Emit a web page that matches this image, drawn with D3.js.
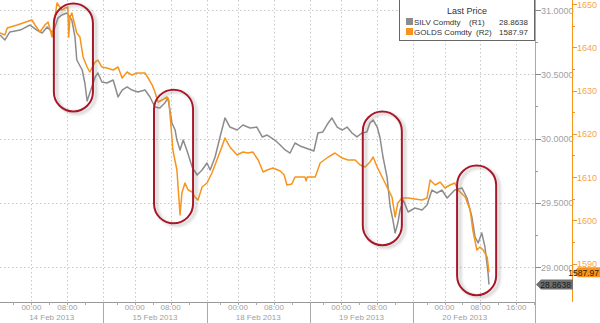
<!DOCTYPE html>
<html><head><meta charset="utf-8">
<script src="https://cdn.jsdelivr.net/npm/d3@7"></script>
<style>
html,body{margin:0;padding:0;background:#fff;}
svg{display:block;font-family:"Liberation Sans",Arial,sans-serif;}
</style></head>
<body><svg id="c" width="600" height="323"></svg>
<script>
// session hours: hours since 13 Feb 17:00, each trading day = 23h (17:00 -> 16:00)
const dayLabels = ["14 Feb 2013","15 Feb 2013","18 Feb 2013","19 Feb 2013","20 Feb 2013"];
const silverHours = [0.0,1.1,2.2,4.5,6.7,8.2,9.4,10.5,11.8,12.9,13.8,14.9,16.0,16.7,17.1,18.3,18.9,19.4,20.0,21.2,21.8,22.7,23.8,25.2,26.3,27.2,28.3,29.4,30.7,32.3,33.4,34.5,35.6,36.7,37.4,38.3,39.0,39.4,40.1,40.8,41.6,42.8,43.9,45.0,46.1,46.8,47.9,49.0,50.1,51.2,52.8,54.1,55.7,57.2,58.4,59.5,61.2,62.4,63.5,64.6,65.7,66.8,69.9,70.8,71.9,73.1,73.9,75.1,76.2,77.3,78.4,79.5,80.6,81.7,82.4,83.1,84.0,84.6,85.3,86.2,86.9,87.5,88.0,88.6,89.1,89.8,90.9,92.4,94.0,95.1,96.2,97.3,98.4,99.6,100.2,101.3,102.9,104.0,105.1,105.8,106.5,107.3,108.0,108.7,108.9];
const silverPrice = [30.805,30.767,30.829,30.844,30.883,30.844,30.821,30.868,30.821,30.938,30.961,30.977,30.922,30.790,30.611,30.533,30.432,30.292,30.354,30.479,30.510,30.440,30.432,30.455,30.323,30.377,30.401,30.377,30.362,30.377,30.323,30.245,30.237,30.276,30.315,30.121,30.066,29.988,29.911,29.988,29.911,29.778,29.716,29.755,29.809,29.755,29.856,30.012,30.160,30.089,30.066,30.105,30.082,30.089,30.012,30.027,29.988,29.949,29.911,29.887,29.965,29.942,29.903,30.043,30.051,30.121,30.160,30.089,30.066,30.089,30.043,30.012,30.043,30.051,30.121,30.144,30.089,30.012,29.856,29.700,29.467,29.366,29.265,29.342,29.444,29.521,29.428,29.459,29.444,29.482,29.599,29.576,29.599,29.537,29.560,29.599,29.615,29.537,29.389,29.233,29.187,29.265,29.156,28.953,28.8638];
const goldHours = [0.0,1.1,1.6,3.8,5.1,7.1,7.8,8.9,10.0,10.7,11.6,12.7,13.8,14.5,15.1,15.3,15.6,16.0,17.1,17.8,18.5,19.4,20.0,21.2,21.8,22.7,23.8,25.2,26.3,27.2,28.3,29.4,30.5,32.3,33.0,33.9,34.5,35.2,36.1,37.2,37.6,38.1,38.5,39.4,40.1,40.5,41.2,41.9,42.8,43.4,44.1,45.0,46.1,47.2,48.3,49.4,50.1,51.2,52.8,54.1,55.2,56.3,57.5,58.6,59.5,60.8,62.4,63.3,63.9,65.0,65.7,67.9,68.2,68.4,70.2,71.3,73.1,74.6,76.2,77.5,79.1,80.2,81.3,82.4,83.1,84.0,85.1,86.2,87.3,88.0,88.6,89.5,90.9,92.4,94.0,95.1,95.8,96.9,98.0,99.1,100.2,101.3,102.0,103.6,104.7,105.3,106.2,106.9,107.6,108.5,108.9];
const goldPrice = [1643.29,1642.83,1644.45,1645.14,1645.61,1646.30,1645.14,1643.53,1645.14,1645.84,1642.37,1650.23,1648.61,1649.08,1649.31,1642.37,1646.99,1647.92,1643.29,1642.37,1637.75,1635.43,1634.28,1636.59,1637.05,1635.43,1635.20,1634.74,1635.43,1632.89,1634.28,1633.58,1634.05,1634.05,1632.89,1631.27,1629.65,1627.34,1627.80,1628.50,1627.80,1621.56,1616.24,1611.62,1601.21,1606.30,1608.61,1606.99,1606.53,1605.38,1604.68,1607.69,1608.61,1610.92,1613.93,1616.94,1619.02,1616.94,1615.09,1615.78,1615.55,1615.78,1613.93,1611.16,1611.62,1612.08,1611.40,1610.46,1608.15,1608.40,1610.00,1610.00,1609.10,1610.00,1610.00,1613.24,1614.62,1615.55,1614.39,1613.93,1613.93,1612.77,1612.31,1613.47,1614.62,1612.31,1610.00,1607.69,1605.38,1600.75,1603.99,1605.14,1605.14,1604.91,1604.68,1605.14,1609.31,1608.15,1608.84,1607.46,1608.15,1608.61,1606.99,1605.38,1602.37,1597.75,1593.12,1593.82,1593.12,1591.50,1587.97];
const silverTicks = [29,29.5,30,30.5,31];
const goldTicks = [1590,1600,1610,1620,1630,1640,1650];
const legendTitle = "Last Price";
const legendRows = [
  {name:"SILV Comdty", axis:"(R1)", last:"28.8638", color:"#8c8c8c"},
  {name:"GOLDS Comdty", axis:"(R2)", last:"1587.97", color:"#f7941d"}
];
// highlighted episodes: [startHour, endHour, silverHigh, silverLow]
const highlights = [[12.0,20.7,31.05,30.21],[34.3,43.0,30.38,29.34],[80.8,89.5,30.21,29.17],[101.8,110.5,29.79,28.78]];

const svg = d3.select("#c");
const W = 535, AX = 302;
const x = d3.scaleLinear().domain([0,119.15]).range([0,W]);
const yS = d3.scaleLinear().domain([29,31]).range([267,10]);
const yG = d3.scaleLinear().domain([1590,1650]).range([263.5,4]);

const defs = svg.append("defs");
const f = defs.append("filter").attr("id","sh").attr("x","-30%").attr("y","-30%").attr("width","160%").attr("height","160%");
f.append("feDropShadow").attr("dx",3).attr("dy",2).attr("stdDeviation",1.6).attr("flood-color","#777").attr("flood-opacity",0.45);

// grid
const g = svg.append("g");
const vGrid = [];
for (let d=0; d<5; d++) vGrid.push(23*d+7, 23*d+15, 23*d+23);
g.selectAll(".vg").data(vGrid).enter().append("line")
  .attr("x1",d=>Math.round(x(d))+0.5).attr("x2",d=>Math.round(x(d))+0.5)
  .attr("y1",0).attr("y2",AX).attr("stroke","#c8c8c8").attr("stroke-dasharray","1.5,2.5");
g.selectAll(".hg").data(silverTicks).enter().append("line")
  .attr("x1",0).attr("x2",W).attr("y1",d=>Math.round(yS(d))+0.5).attr("y2",d=>Math.round(yS(d))+0.5)
  .attr("stroke","#c8c8c8").attr("stroke-dasharray","1.5,2.5");

// lines
const ls = d3.line().x((d,i)=>x(silverHours[i])).y(d=>yS(d));
const lg = d3.line().x((d,i)=>x(goldHours[i])).y(d=>yG(d));
svg.append("path").attr("d",ls(silverPrice)).attr("fill","none").attr("stroke","#8c8c8c").attr("stroke-width",1.5).attr("stroke-linejoin","round");
svg.append("path").attr("d",lg(goldPrice)).attr("fill","none").attr("stroke","#f7941d").attr("stroke-width",1.5).attr("stroke-linejoin","round");

// highlights
svg.selectAll(".hl").data(highlights).enter().append("rect")
  .attr("x",d=>x(d[0])).attr("y",d=>yS(d[2]))
  .attr("width",d=>x(d[1])-x(d[0])).attr("height",d=>yS(d[3])-yS(d[2]))
  .attr("rx",d=>(x(d[1])-x(d[0]))/2).attr("ry",d=>(x(d[1])-x(d[0]))/2)
  .attr("fill","none").attr("stroke","#a8192b").attr("stroke-width",2).attr("filter","url(#sh)");

// bottom axis
const xa = svg.append("g").attr("transform",`translate(0,${AX})`);
xa.append("line").attr("x1",0).attr("x2",W).attr("y1",0.5).attr("y2",0.5).attr("stroke","#999");
const minor = [];
for (let d=0; d<5; d++) [3,7,11,15,19].forEach(h=>minor.push(23*d+h));
minor.push(115,119);
xa.selectAll(".mt").data(minor).enter().append("line")
  .attr("x1",d=>Math.round(x(d))+0.5).attr("x2",d=>Math.round(x(d))+0.5).attr("y1",0).attr("y2",3).attr("stroke","#aaa");
const seps = [23,46,69,92];
xa.selectAll(".sp").data(seps).enter().append("line")
  .attr("x1",d=>Math.round(x(d))+0.5).attr("x2",d=>Math.round(x(d))+0.5).attr("y1",0).attr("y2",21).attr("stroke","#aaa");
const timeTicks = [];
for (let d=0; d<5; d++) { timeTicks.push([23*d+7,"00:00"]); timeTicks.push([23*d+15,"08:00"]); }
timeTicks.push([115,"16:00"]);
xa.selectAll(".tl").data(timeTicks).enter().append("text")
  .attr("x",d=>x(d[0])).attr("y",8).attr("text-anchor","middle").attr("font-size",8).attr("fill","#a0a0a0").text(d=>d[1]);
xa.selectAll(".dl").data(dayLabels).enter().append("text")
  .attr("x",(d,i)=>x(23*i+11.5)).attr("y",18).attr("text-anchor","middle").attr("font-size",8).attr("fill","#a0a0a0").text(d=>d);

// silver axis
const sa = svg.append("g").attr("transform",`translate(${W},0)`);
sa.append("line").attr("x1",0.5).attr("x2",0.5).attr("y1",0).attr("y2",323).attr("stroke","#aaa");
sa.selectAll(".smin").data([29.25,29.75,30.25,30.75]).enter().append("line")
  .attr("x1",0).attr("x2",3).attr("y1",d=>Math.round(yS(d))+0.5).attr("y2",d=>Math.round(yS(d))+0.5).attr("stroke","#999");
sa.selectAll(".smaj").data(silverTicks).enter().append("line")
  .attr("x1",0).attr("x2",6).attr("y1",d=>Math.round(yS(d))+0.5).attr("y2",d=>Math.round(yS(d))+0.5).attr("stroke","#888");
sa.selectAll(".stl").data(silverTicks).enter().append("text")
  .attr("x",6).attr("y",d=>yS(d)+3.5).attr("font-size",9).attr("fill","#a0a0a0").text(d=>d3.format(".4f")(d));

// gold axis
const GX = 572;
const ga = svg.append("g").attr("transform",`translate(${GX},0)`);
ga.append("line").attr("x1",0.5).attr("x2",0.5).attr("y1",0).attr("y2",AX).attr("stroke","#f7941d");
ga.selectAll(".gmin").data([1595,1605,1615,1625,1635,1645]).enter().append("line")
  .attr("x1",0).attr("x2",3).attr("y1",d=>Math.round(yG(d))+0.5).attr("y2",d=>Math.round(yG(d))+0.5).attr("stroke","#f7941d");
ga.selectAll(".gmaj").data(goldTicks).enter().append("line")
  .attr("x1",0).attr("x2",5).attr("y1",d=>Math.round(yG(d))+0.5).attr("y2",d=>Math.round(yG(d))+0.5).attr("stroke","#f7941d");
ga.selectAll(".gtl").data(goldTicks).enter().append("text")
  .attr("x",5).attr("y",d=>yG(d)+3.5).attr("font-size",9).attr("fill","#f5a74a").text(d=>d);

// last price tags
function tag(x0, yc, w, fill, txt, tc){
  const h = 10;
  svg.append("path").attr("d",`M${x0},${yc} L${x0+5},${yc-h/2} L${x0+w},${yc-h/2} L${x0+w},${yc+h/2} L${x0+5},${yc+h/2} Z`).attr("fill",fill);
  svg.append("text").attr("x",x0+w-2).attr("y",yc+3.3).attr("text-anchor","end").attr("font-size",8.5).attr("fill",tc).text(txt);
}
tag(W+1, yS(silverPrice[silverPrice.length-1]), 37, "#6e6e6e", legendRows[0].last, "#1a1a1a");
tag(GX+1, yG(goldPrice[goldPrice.length-1]), 28, "#f7941d", legendRows[1].last, "#3a2200");

// legend
const lgd = svg.append("g");
lgd.append("rect").attr("x",399.5).attr("y",-1.5).attr("width",135).attr("height",42).attr("fill","#fff").attr("stroke","#666");
lgd.append("text").attr("x",467).attr("y",14).attr("text-anchor","middle").attr("font-size",9).attr("fill","#333").text(legendTitle);
const axisX = [469, 476];
legendRows.forEach((r,i)=>{
  const yy = 22 + i*10;
  lgd.append("rect").attr("x",406).attr("y",yy-4).attr("width",7).attr("height",7).attr("fill",r.color);
  lgd.append("text").attr("x",414).attr("y",yy+3).attr("font-size",8).attr("fill","#333").text(r.name);
  lgd.append("text").attr("x",axisX[i]).attr("y",yy+3).attr("font-size",8).attr("fill","#333").text(r.axis);
  lgd.append("text").attr("x",528).attr("y",yy+3).attr("text-anchor","end").attr("font-size",8).attr("fill","#333").text(r.last);
});
</script></body></html>
